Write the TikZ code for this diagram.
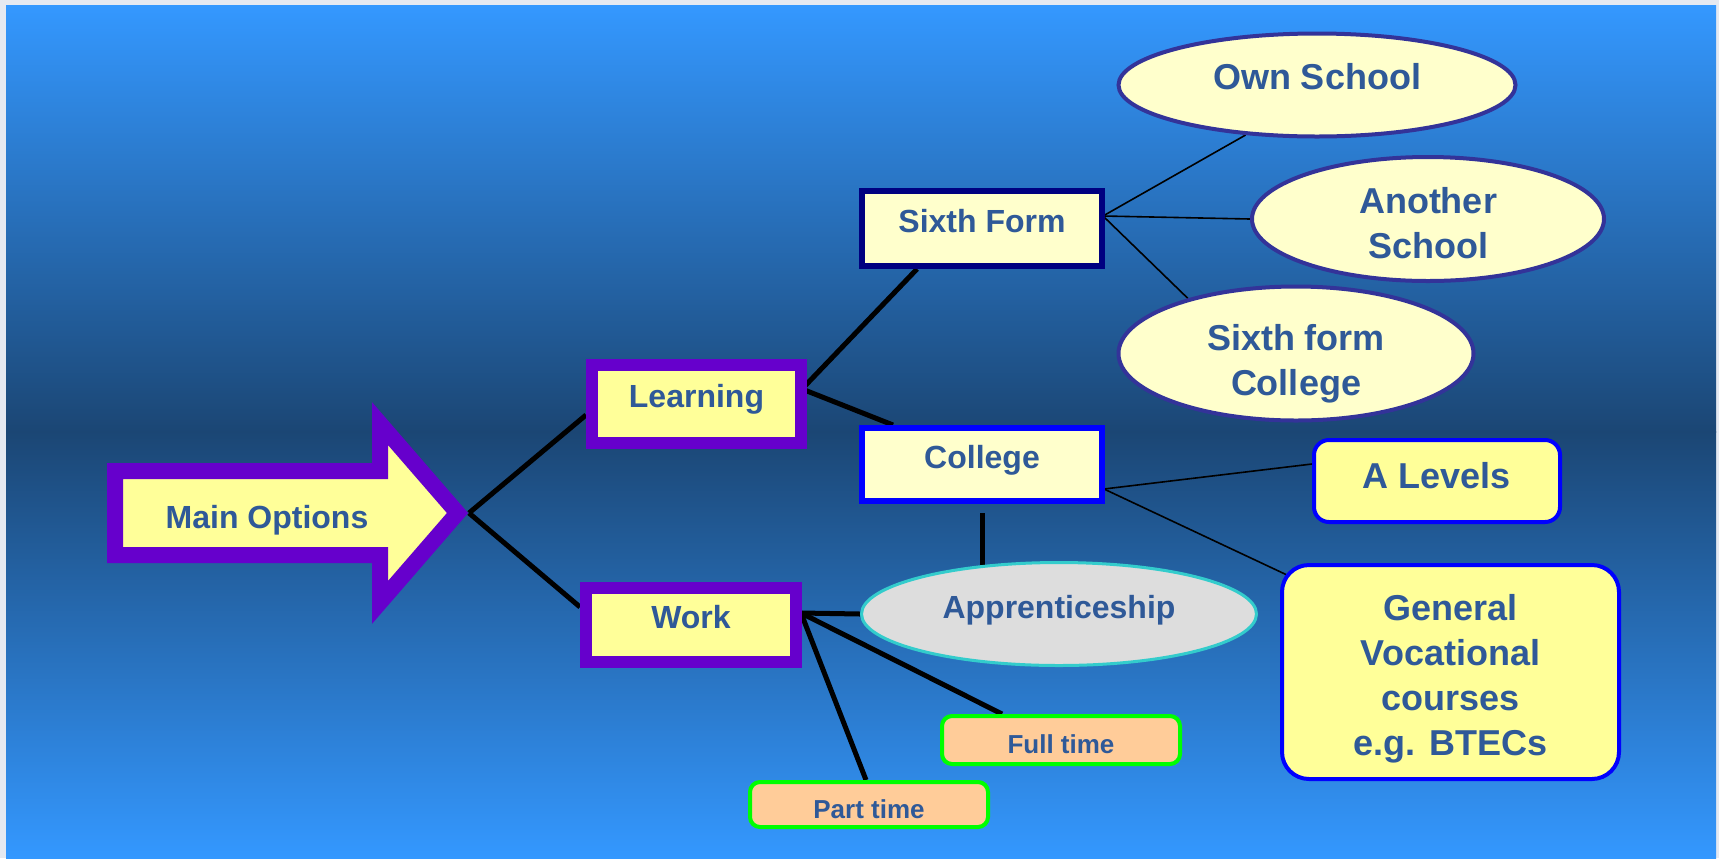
\documentclass[tikz,border=0pt]{standalone}
\usepackage{fontspec}
\setmainfont{Liberation Sans}
\usetikzlibrary{calc,shapes.geometric}

\definecolor{skytop}{RGB}{52,152,255}
\definecolor{skymid}{RGB}{27,70,116}
\definecolor{framegrey}{HTML}{E5E9F1}
\definecolor{optpurple}{HTML}{6600CC}
\definecolor{optyellow}{HTML}{FFFF99}
\definecolor{optcream}{HTML}{FFFFCC}
\definecolor{optnavy}{HTML}{000080}
\definecolor{optblue}{HTML}{0000FF}
\definecolor{ovalrim}{HTML}{333399}
\definecolor{apprgrey}{HTML}{DDDDDD}
\definecolor{apprrim}{HTML}{33CCCC}
\definecolor{jobfill}{HTML}{FFCC99}
\definecolor{jobrim}{HTML}{00FF00}
\definecolor{labelblue}{RGB}{47,89,152}

\pgfdeclarelayer{backdrop}
\pgfdeclarelayer{links}
\pgfsetlayers{backdrop,links,main}

\newcommand\nodelines[1]{\begin{tabular}[b]{@{}c@{}}#1\end{tabular}}

\begin{document}
\begin{tikzpicture}[x=0.5pt,y=-0.5pt,
  every node/.style={text=labelblue},
  big/.style={font=\fontsize{16}{19.2}\selectfont\bfseries},
  large/.style={font=\fontsize{18}{22.5}\selectfont\bfseries},
  small/.style={font=\fontsize{13}{15.6}\selectfont\bfseries},
  mainbox/.style={rectangle, draw=optpurple, fill=optyellow, line width=6pt, big,
    text height=10pt, text depth=6.4pt},
  formbox/.style={rectangle, fill=optcream, line width=3pt, big,
    text height=10pt, text depth=6.4pt},
  tradeoval/.style={ellipse, draw=apprrim, fill=apprgrey, line width=1.5pt, big,
    text height=10pt, text depth=5.5pt},
  oval/.style={ellipse, draw=ovalrim, fill=optcream, line width=2pt, inner sep=0pt, large},
  course/.style={rectangle, draw=optblue, fill=optyellow, line width=2pt, large},
  jobbox/.style={rectangle, rounded corners=5pt, draw=jobrim, fill=jobfill, line width=2pt,
    small, text height=14pt, text depth=0.2pt},
  trunk/.style={line width=2.5pt, black},
  twig/.style={line width=0.8pt, black}]
\useasboundingbox (0,0) rectangle (1719,858);

% backdrop
\begin{pgfonlayer}{backdrop}
\fill[framegrey] (0,0) rectangle (1719,858);
\shade[top color=skytop, bottom color=skymid] (6,5) rectangle (1716,432);
\shade[top color=skymid, bottom color=skytop] (6,431) rectangle (1716,858);
\end{pgfonlayer}

% main arrow
\draw[line width=8pt, draw=optpurple, fill=optyellow, line join=miter]
  (115,471) -- (380,471) -- (380,423.6) -- (457.5,513) -- (380,602.4) -- (380,555) -- (115,555) -- cycle;
\coordinate (tip) at (469,513);
\node[big, anchor=base] (main) at (267,528) {Main Options};

% first level
\node[mainbox, minimum width=104.5pt, minimum height=39pt] (learning) at (696.5,404) {Learning};
\node[mainbox, minimum width=105pt, minimum height=37pt] (work) at (691,625) {Work};

% learning branch
\node[formbox, draw=optnavy, minimum width=120pt, minimum height=37.5pt] (sixth) at (982,228.5) {Sixth Form};
\node[formbox, draw=optblue, minimum width=120pt, minimum height=36.5pt] (college) at (982,464.5) {College};

\node[oval, minimum width=198.5pt, minimum height=51.5pt, text height=11pt, text depth=6.1pt] (own) at (1317,85) {Own School};
\node[oval, minimum width=176pt, minimum height=62pt, text height=40pt, text depth=0.6pt] (another) at (1428,219) {\nodelines{Another\\School}};
\node[oval, minimum width=177.5pt, minimum height=67pt, text height=43pt, text depth=0.6pt] (sfcollege) at (1296,353.5) {\nodelines{Sixth form\\College}};

\node[course, rounded corners=7.5pt, minimum width=123pt, minimum height=41pt, text height=11pt, text depth=3.1pt] (alevels) at (1437,481) {A Levels};
\node[course, rounded corners=13.5pt, minimum width=168.5pt, minimum height=107pt, text height=84pt, text depth=0.6pt] (general) at (1450.5,672) {\nodelines{General\\Vocational\\courses\\e.g. BTECs}};

% work branch
\node[tradeoval, minimum width=197.5pt, minimum height=51.5pt] (appr) at (1059,614) {Apprenticeship};
\node[jobbox, minimum width=119pt, minimum height=24pt] (fulltime) at (1061,740) {Full time};
\node[jobbox, minimum width=119pt, minimum height=22.5pt] (parttime) at (869,804.5) {Part time};

% connectors
\begin{pgfonlayer}{links}
\coordinate (ljunc) at ($(learning.east)+(-5,-15)$);
\coordinate (wjunc) at ($(work.east)+(-1,-12)$);
\coordinate (sjunc) at ($(sixth.east)+(-2,-12.5)$);
\coordinate (cjunc) at ($(college.east)+(-1,24.5)$);

\draw[trunk] (tip) -- ($(learning.west)+(0,11)$);
\draw[trunk] (tip) -- ($(work.west)+(0,-18)$);
\draw[trunk] (ljunc) -- ($(sixth.south)+(-65,0)$);
\draw[trunk] (ljunc) -- ($(college.north)+(-89,0)$);
\draw[trunk] (wjunc) -- (appr.west);
\draw[trunk] (wjunc) -- ($(fulltime.north)+(-59,0)$);
\draw[trunk] (wjunc) -- ($(parttime.north)+(-3,0)$);
\draw[trunk] ($(college.south)+(0,9)$) -- ($(college.south |- appr.north)+(0,4)$);

\draw[twig] (sjunc) -- (own.215);
\draw[twig] (sjunc) -- (another.west);
\draw[twig] (sjunc) -- (sfcollege.153);
\draw[twig] (cjunc) -- ($(alevels.west)+(0,-17)$);
\draw[twig] (cjunc) -- ($(general.north west)+(7,12)$);
\end{pgfonlayer}
\end{tikzpicture}
\end{document}
